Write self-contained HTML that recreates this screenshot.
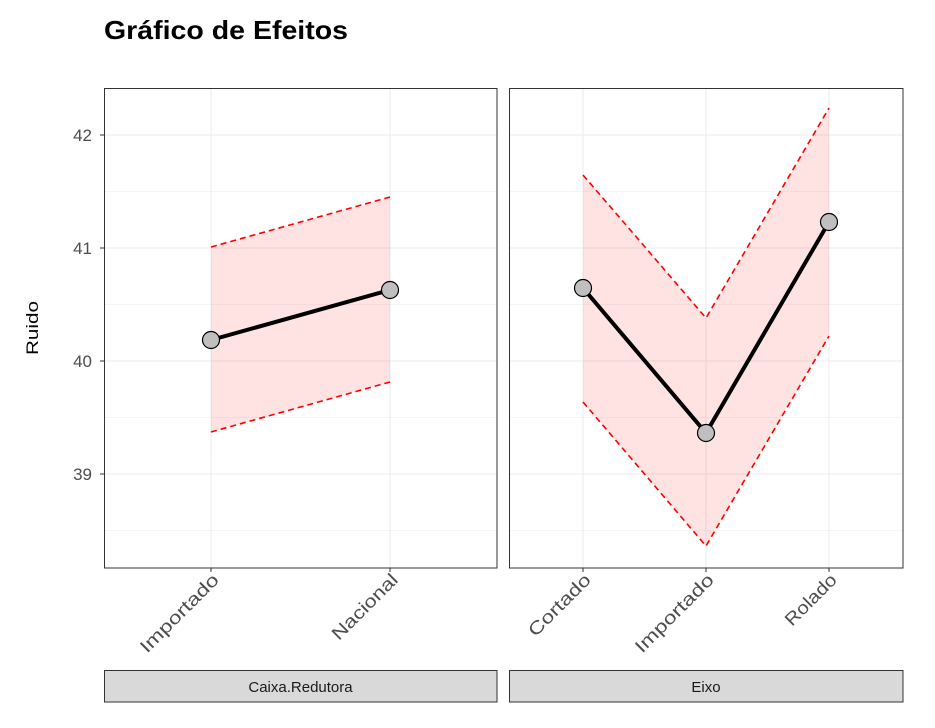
<!DOCTYPE html>
<html><head><meta charset="utf-8"><style>body{margin:0;background:#fff}</style></head><body>
<svg width="935" height="723" xmlns="http://www.w3.org/2000/svg" font-family="'Liberation Sans', 'DejaVu Sans', sans-serif">
<rect width="935" height="723" fill="#fff"/>
<text x="104" y="39" font-size="26" font-weight="bold" fill="#000" textLength="244" lengthAdjust="spacingAndGlyphs">Gráfico de Efeitos</text>
<text transform="translate(38,328) rotate(-90)" text-anchor="middle" font-size="17" fill="#000" textLength="54" lengthAdjust="spacingAndGlyphs">Ruido</text>
<g font-size="17" fill="#4d4d4d" text-anchor="end">
<text x="92" y="141">42</text><text x="92" y="254">41</text><text x="92" y="367">40</text><text x="92" y="480">39</text>
</g>
<g stroke="#333" stroke-width="1">
<line x1="100" y1="135" x2="104" y2="135"/><line x1="100" y1="248" x2="104" y2="248"/><line x1="100" y1="361" x2="104" y2="361"/><line x1="100" y1="474" x2="104" y2="474"/>
</g>
<!-- panel 1 -->
<g>
<g stroke="#ebebeb" stroke-width="1">
<line x1="104" y1="191.5" x2="497" y2="191.5" stroke-width="0.6"/><line x1="104" y1="304.5" x2="497" y2="304.5" stroke-width="0.6"/><line x1="104" y1="417.5" x2="497" y2="417.5" stroke-width="0.6"/><line x1="104" y1="530.5" x2="497" y2="530.5" stroke-width="0.6"/>
<line x1="104" y1="135" x2="497" y2="135"/><line x1="104" y1="248" x2="497" y2="248"/><line x1="104" y1="361" x2="497" y2="361"/><line x1="104" y1="474" x2="497" y2="474"/>
<line x1="211" y1="88" x2="211" y2="568"/><line x1="390" y1="88" x2="390" y2="568"/>
</g>
<polygon points="211,247 390,197 390,382 211,432" fill="#ff0000" fill-opacity="0.11"/>
<g stroke="#ff0000" stroke-width="1.6" stroke-dasharray="6,4" fill="none">
<line x1="211" y1="247" x2="390" y2="197"/><line x1="211" y1="432" x2="390" y2="382"/>
</g>
<line x1="211" y1="340" x2="390" y2="290" stroke="#000" stroke-width="4"/>
<circle cx="211" cy="340" r="8.5" fill="#bfbfbf" stroke="#000" stroke-width="1.2"/>
<circle cx="390" cy="290" r="8.5" fill="#bfbfbf" stroke="#000" stroke-width="1.2"/>
<rect x="104.5" y="88.5" width="392.5" height="479.5" fill="none" stroke="#333" stroke-width="1"/>
<line x1="211" y1="568" x2="211" y2="572" stroke="#333"/><line x1="390" y1="568" x2="390" y2="572" stroke="#333"/>
<g font-size="18" fill="#4d4d4d" text-anchor="end">
<text transform="translate(220,581) rotate(-45)" textLength="103" lengthAdjust="spacingAndGlyphs">Importado</text>
<text transform="translate(399,581) rotate(-45)" textLength="85" lengthAdjust="spacingAndGlyphs">Nacional</text>
</g>
<rect x="104.5" y="670.5" width="392.5" height="31.5" fill="#d9d9d9" stroke="#333"/>
<text x="300.5" y="692" font-size="15" fill="#1a1a1a" text-anchor="middle">Caixa.Redutora</text>
</g>
<!-- panel 2 -->
<g>
<g stroke="#ebebeb" stroke-width="1">
<line x1="509" y1="191.5" x2="903" y2="191.5" stroke-width="0.6"/><line x1="509" y1="304.5" x2="903" y2="304.5" stroke-width="0.6"/><line x1="509" y1="417.5" x2="903" y2="417.5" stroke-width="0.6"/><line x1="509" y1="530.5" x2="903" y2="530.5" stroke-width="0.6"/>
<line x1="509" y1="135" x2="903" y2="135"/><line x1="509" y1="248" x2="903" y2="248"/><line x1="509" y1="361" x2="903" y2="361"/><line x1="509" y1="474" x2="903" y2="474"/>
<line x1="583" y1="88" x2="583" y2="568"/><line x1="706" y1="88" x2="706" y2="568"/><line x1="829" y1="88" x2="829" y2="568"/>
</g>
<polygon points="583,175 706,318 829,108 829,336 706,546 583,402" fill="#ff0000" fill-opacity="0.11"/>
<g stroke="#ff0000" stroke-width="1.6" stroke-dasharray="6,4" fill="none">
<polyline points="583,175 706,318 829,108"/><polyline points="583,402 706,546 829,336"/>
</g>
<polyline points="583,288 706,433 829,222" stroke="#000" stroke-width="4" fill="none"/>
<circle cx="583" cy="288" r="8.5" fill="#bfbfbf" stroke="#000" stroke-width="1.2"/>
<circle cx="706" cy="433" r="8.5" fill="#bfbfbf" stroke="#000" stroke-width="1.2"/>
<circle cx="829" cy="222" r="8.5" fill="#bfbfbf" stroke="#000" stroke-width="1.2"/>
<rect x="509.5" y="88.5" width="393.5" height="479.5" fill="none" stroke="#333" stroke-width="1"/>
<line x1="583" y1="568" x2="583" y2="572" stroke="#333"/><line x1="706" y1="568" x2="706" y2="572" stroke="#333"/><line x1="829" y1="568" x2="829" y2="572" stroke="#333"/>
<g font-size="18" fill="#4d4d4d" text-anchor="end">
<text transform="translate(592,581) rotate(-45)" textLength="80" lengthAdjust="spacingAndGlyphs">Cortado</text>
<text transform="translate(715,581) rotate(-45)" textLength="103" lengthAdjust="spacingAndGlyphs">Importado</text>
<text transform="translate(838,581) rotate(-45)" textLength="65" lengthAdjust="spacingAndGlyphs">Rolado</text>
</g>
<rect x="509.5" y="670.5" width="393.5" height="31.5" fill="#d9d9d9" stroke="#333"/>
<text x="706" y="692" font-size="15" fill="#1a1a1a" text-anchor="middle">Eixo</text>
</g>
</svg>
</body></html>
